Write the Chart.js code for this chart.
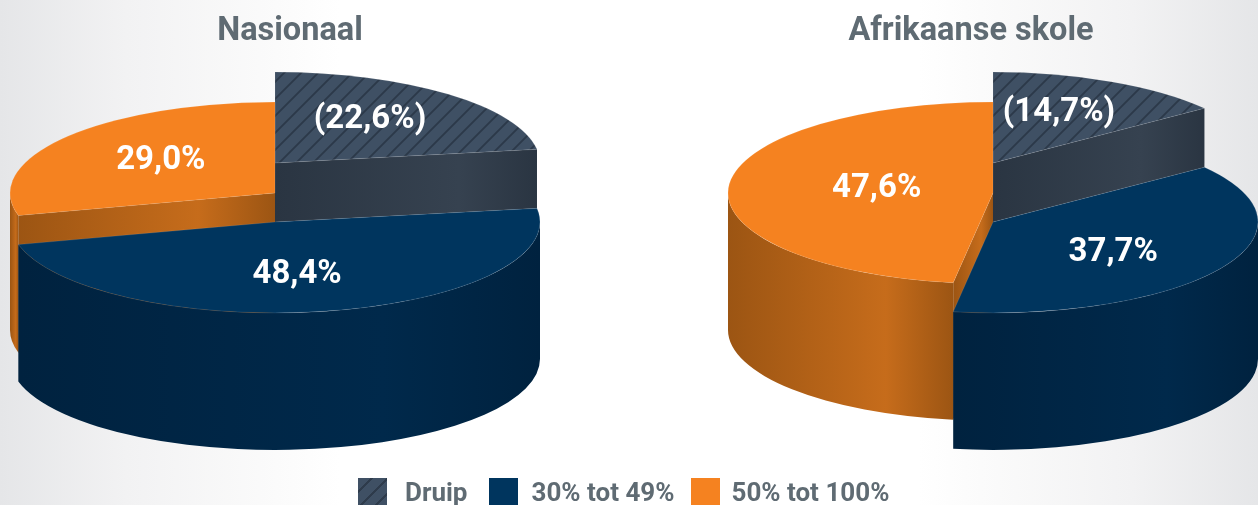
<!DOCTYPE html>
<html>
<head>
<meta charset="utf-8">
<script src="https://cdn.jsdelivr.net/npm/chart.js@4"></script>
<style>
  html, body { margin: 0; height: 100%; overflow: hidden; }
  body { position: relative; width: 1258px; height: 505px; background: linear-gradient(90deg, #e5e6e8 0, #f2f2f3 10%, #fbfbfb 22%, #fff 27%, #fff 73%, #fbfbfb 78%, #f2f2f3 90%, #e5e6e8 100%); }
  .pie { position: absolute; top: 0; height: 505px; }
  #legend { position: absolute; top: 478px; left: 358px; display: flex; font: bold 26px Roboto, sans-serif; color: #5f6b73; line-height: 29px; white-space: nowrap; }
  #legend i { display: block; width: 29px; height: 27px; margin-right: 14px; }
  #legend i:first-child { margin-right: 18px; }
  #legend i:nth-child(5) { margin-right: 11px; }
  #legend span { margin-right: 17px; }
  #legend span:nth-child(2) { margin-right: 21px; }
</style>
</head>
<body>
<div class="pie" style="left:0;width:580px"><canvas id="nasionaal" width="580" height="505"></canvas></div>
<div class="pie" style="left:684px;width:574px"><canvas id="afrikaans" width="574" height="505"></canvas></div>
<div id="legend"></div>
<script>
// data
const categories = ['Druip', '30% tot 49%', '50% tot 100%'];
const nasionaalValues = [22.6, 48.4, 29.0];
const afrikaansValues = [14.7, 37.7, 47.6];
const nasionaalLabels = ['(22,6%)', '48,4%', '29,0%'];
const afrikaansLabels = ['(14,7%)', '37,7%', '47,6%'];

// look of the 3D pie
const tilt = 0.343;
const radius = 265;
const sliceLift = [-59, 0, -29];
const sliceDepth = [59, 137, 137];
const wallDark = ['#2a3542', '#00223f', '#9c5513'];
const wallLight = ['#364250', '#00294b', '#c66c1b'];
const textGrey = '#5f6b73';

function hatchPattern() {
  const size = 17;
  const c = document.createElement('canvas');
  c.width = size;
  c.height = size;
  const g = c.getContext('2d');
  g.fillStyle = '#3f5064';
  g.fillRect(0, 0, size, size);
  g.strokeStyle = '#2c3949';
  g.lineWidth = 1.8;
  g.beginPath();
  g.moveTo(-2, 2);
  g.lineTo(2, -2);
  g.moveTo(0, size);
  g.lineTo(size, 0);
  g.moveTo(size - 2, size + 2);
  g.lineTo(size + 2, size - 2);
  g.stroke();
  return g.createPattern(c, 'repeat');
}

function wallGradient(ctx, x0, x1, i) {
  const grad = ctx.createLinearGradient(x0, 0, x1, 0);
  grad.addColorStop(0, wallDark[i]);
  grad.addColorStop(0.7, wallLight[i]);
  grad.addColorStop(1, wallDark[i]);
  return grad;
}

function drawFace(ctx, cx, top, depth, angle, i) {
  const ex = cx + radius * Math.cos(angle);
  const ey = top + radius * tilt * Math.sin(angle);
  ctx.beginPath();
  ctx.moveTo(cx, top);
  ctx.lineTo(ex, ey);
  ctx.lineTo(ex, ey + depth);
  ctx.lineTo(cx, top + depth);
  ctx.closePath();
  ctx.fillStyle = wallGradient(ctx, Math.min(cx, ex), Math.max(cx, ex), i);
  ctx.fill();
}

function drawWall(ctx, cx, top, depth, start, end, i) {
  // only the part of the rim that faces the viewer
  const from = Math.max(start, 0);
  const to = Math.min(end, Math.PI);
  if (to <= from) return;
  const ry = radius * tilt;
  const xs = [from, to].map(a => cx + radius * Math.cos(a));
  let minX = Math.min(xs[0], xs[1]);
  let maxX = Math.max(xs[0], xs[1]);
  ctx.beginPath();
  ctx.ellipse(cx, top, radius, ry, 0, from, to);
  ctx.ellipse(cx, top + depth, radius, ry, 0, to, from, true);
  ctx.closePath();
  ctx.fillStyle = wallGradient(ctx, minX, maxX, i);
  ctx.fill();
}

const pie3d = {
  id: 'pie3d',
  beforeDatasetsDraw(chart, args, opts) {
    const ctx = chart.ctx;
    const arcs = chart.getDatasetMeta(0).data;
    const cx = arcs[0].x + opts.shiftX;
    const ry = radius * tilt;
    const order = arcs.map((a, i) => i).sort((a, b) => sliceLift[a] - sliceLift[b]);
    ctx.save();
    order.forEach(i => {
      const { startAngle, endAngle, y, options } = arcs[i];
      const top = y + sliceLift[i];
      const depth = sliceDepth[i];
      if (Math.cos(startAngle) < -0.01) drawFace(ctx, cx, top, depth, startAngle, i);
      if (Math.cos(endAngle) > 0.01) drawFace(ctx, cx, top, depth, endAngle, i);
      drawWall(ctx, cx, top, depth, startAngle, endAngle, i);
      ctx.beginPath();
      ctx.moveTo(cx, top);
      ctx.ellipse(cx, top, radius, ry, 0, startAngle, endAngle);
      ctx.closePath();
      ctx.fillStyle = options.backgroundColor;
      ctx.fill();
      ctx.strokeStyle = 'rgba(255,255,255,0.1)';
      ctx.lineWidth = 1;
      ctx.stroke();
    });
    ctx.fillStyle = '#fff';
    ctx.font = 'bold 33px Roboto, sans-serif';
    ctx.textAlign = 'center';
    ctx.textBaseline = 'middle';
    arcs.forEach((arc, i) => {
      const mid = (arc.startAngle + arc.endAngle) / 2;
      const lx = cx + radius * 0.55 * Math.cos(mid) + opts.nudge[i][0];
      const ly = arc.y + sliceLift[i] + ry * 0.55 * Math.sin(mid) + opts.nudge[i][1];
      ctx.fillText(opts.labels[i], lx, ly);
    });
    ctx.restore();
    return false;
  }
};

const hatch = hatchPattern();

function makePie(id, title, values, labels, shiftX, nudge) {
  new Chart(document.getElementById(id), {
    type: 'pie',
    data: {
      labels: categories,
      datasets: [{
        data: values,
        backgroundColor: [hatch, '#00355e', '#f58220'],
        borderWidth: 0
      }]
    },
    options: {
      responsive: false,
      animation: false,
      radius: radius,
      events: [],
      layout: { padding: { bottom: 112.5 } },
      plugins: {
        legend: { display: false },
        tooltip: { enabled: false },
        title: {
          display: true,
          text: title,
          color: textGrey,
          font: { family: 'Roboto, sans-serif', size: 32.5, weight: 'bold' },
          padding: { top: 12.5, bottom: 0 }
        },
        pie3d: { shiftX, nudge, labels }
      }
    },
    plugins: [pie3d]
  });
}

makePie('nasionaal', 'Nasionaal', nasionaalValues, nasionaalLabels, -15, [[0, -5], [-7, 4], [1, -2]]);
makePie('afrikaans', 'Afrikaanse skole', afrikaansValues, afrikaansLabels, 22, [[1, -5], [-5, 5], [29, 0]]);

// legend, same order as the slices
const swatches = [
  'repeating-linear-gradient(135deg, #3f5064 0 9px, #2e3b4b 9px 11px)',
  '#00355e',
  '#f58220'
];
const legend = document.getElementById('legend');
categories.forEach((name, i) => {
  const box = document.createElement('i');
  box.style.background = swatches[i];
  const text = document.createElement('span');
  text.textContent = name;
  legend.append(box, text);
});
</script>
</body>
</html>
